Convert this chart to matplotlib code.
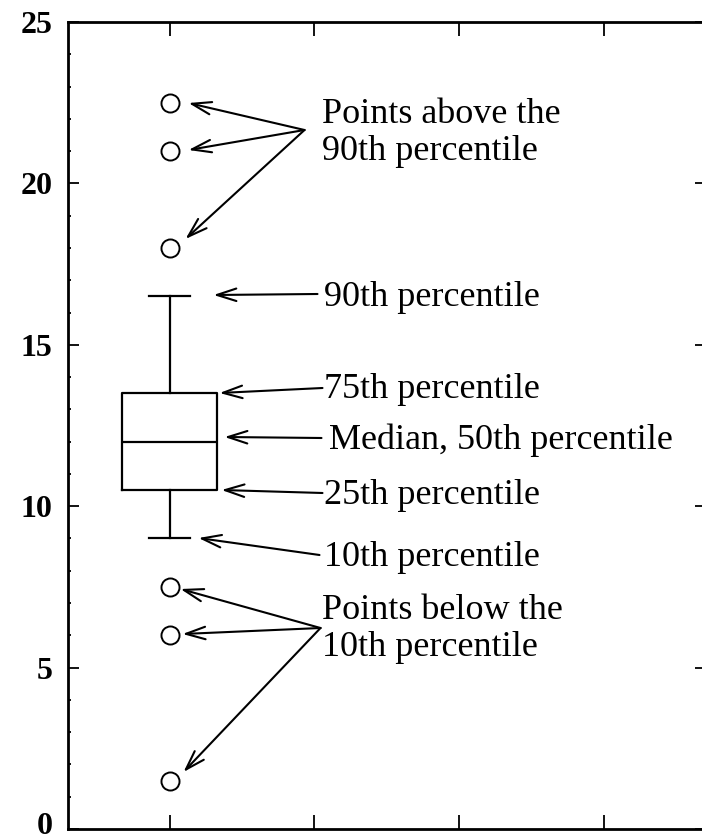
import matplotlib.pyplot as plt
import matplotlib.transforms as mtransforms

# box statistics
q1 = 10.5
median = 12.0
q3 = 13.5
p10 = 9.0
p90 = 16.5
points_above = [22.5, 21.0, 18.0]
points_below = [7.5, 6.0, 1.5]
y_ticks = [0, 5, 10, 15, 20, 25]

plt.rcParams['font.family'] = ['Liberation Serif', 'DejaVu Serif']

W, H = 702, 839
fig = plt.figure(figsize=(W / 100, H / 100), dpi=100)
# axes placed in pixel units, right spine falls just outside the image
x0, x1, xt = 68, 706, 170
ytop, ybot = 22, 829
ax = fig.add_axes([x0 / W, (H - ybot) / H, (x1 - x0) / W, (ybot - ytop) / H])

stats = [{'whislo': p10, 'q1': q1, 'med': median, 'q3': q3, 'whishi': p90,
          'fliers': points_above + points_below}]
lw = 1.6
ax.bxp(stats, positions=[1], widths=0.66, capwidths=0.28,
       boxprops=dict(color='black', linewidth=lw),
       medianprops=dict(color='black', linewidth=lw),
       whiskerprops=dict(color='black', linewidth=lw),
       capprops=dict(color='black', linewidth=lw),
       flierprops=dict(marker='o', markerfacecolor='none', markeredgecolor='black',
                       markersize=13, markeredgewidth=1.4))

ax.set_xlim(0.3, 0.3 + (x1 - x0) / 145)
ax.set_ylim(0, 25)
ax.set_xticks([1, 2, 3, 4])
ax.set_xticklabels([])
ax.set_yticks(y_ticks)
ax.set_yticklabels([str(v) for v in y_ticks], fontsize=23, fontweight='bold')
ax.set_yticks(range(0, 26), minor=True)
ax.tick_params(axis='both', which='both', direction='in', top=True, right=True, width=1.3)
ax.tick_params(axis='y', which='major', length=8, pad=11)
ax.tick_params(axis='y', which='minor', length=2.5)
ax.tick_params(axis='x', which='major', length=10)
for s in ['left', 'bottom', 'top']:
    ax.spines[s].set_linewidth(2)
ax.spines['right'].set_visible(False)

# nudge the "0" label up a bit so it stays inside the image
lab0 = ax.get_yticklabels()[0]
lab0.set_transform(lab0.get_transform() +
                   mtransforms.ScaledTranslation(0, 4 / 72, fig.dpi_scale_trans))


def px(x, y):
    # pixel position in the image -> data coords
    return (1 + (x - xt) / 145, (ybot - y) / ((ybot - ytop) / 25))


arrow = dict(arrowstyle='->, head_length=1.4, head_width=0.45', color='black', lw=1.5,
             shrinkA=0, shrinkB=0)
fs = 26

def note(start, end):
    ax.annotate('', xy=px(*end), xytext=px(*start), arrowprops=arrow)

# points above
ax.text(*px(322, 133), 'Points above the\n90th percentile', fontsize=fs, va='center',
        ha='left', linespacing=1.15)
for end in [(189, 103), (189, 150), (186, 239)]:
    note((305, 130), end)

ax.text(*px(325, 298), '90th percentile', fontsize=fs, va='center')
note((318, 294), (214, 295))
ax.text(*px(325, 390), '75th percentile', fontsize=fs, va='center')
note((323, 388), (220, 393))
ax.text(*px(330, 440), 'Median, 50th percentile', fontsize=fs, va='center')
note((322, 438), (225, 437))
ax.text(*px(325, 495), '25th percentile', fontsize=fs, va='center')
note((323, 493), (222, 490))
ax.text(*px(325, 557), '10th percentile', fontsize=fs, va='center')
note((320, 555), (199, 538))

ax.text(*px(322, 629), 'Points below the\n10th percentile', fontsize=fs, va='center',
        ha='left', linespacing=1.15)
for end in [(181, 589), (183, 634), (184, 772)]:
    note((321, 628), end)

fig.savefig('out.png', dpi=100)
